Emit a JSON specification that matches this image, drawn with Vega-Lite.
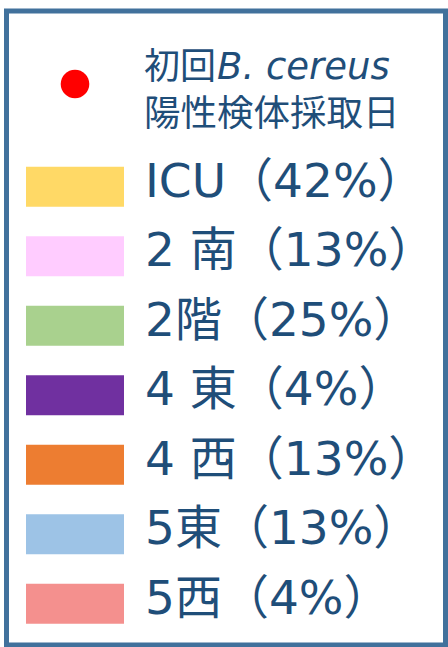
{
  "$schema": "https://vega.github.io/schema/vega-lite/v6.json",
  "width": 439,
  "height": 634,
  "padding": {"left": 6.5, "top": 11, "right": 2.5, "bottom": 2},
  "autosize": {"type": "none"},
  "background": "white",
  "view": {"stroke": "#41719C", "strokeWidth": 5, "fill": "white"},
  "datasets": {
    "marker": [
      {"item": "header", "first": "初回", "species": "B. cereus", "line2": "陽性検体採取日"}
    ],
    "wards": [
      {"item": "ICU", "label": "ICU（42%）", "pct": 42},
      {"item": "2南", "label": "2 南（13%）", "pct": 13},
      {"item": "2階", "label": "2階（25%）", "pct": 25},
      {"item": "4東", "label": "4 東（4%）", "pct": 4},
      {"item": "4西", "label": "4 西（13%）", "pct": 13},
      {"item": "5東", "label": "5東（13%）", "pct": 13},
      {"item": "5西", "label": "5西（4%）", "pct": 4}
    ]
  },
  "encoding": {
    "y": {
      "field": "item",
      "type": "nominal",
      "scale": {"type": "point", "padding": 0, "domain": ["header", "ICU", "2南", "2階", "4東", "4西", "5東", "5西"], "range": [106.3, 592.8]},
      "axis": null
    }
  },
  "layer": [
    {
      "data": {"name": "marker"},
      "mark": {"type": "point", "shape": "M-1,-2.33A1,1,0,1,1,1,-2.33A1,1,0,1,1,-1,-2.33Z", "size": 818, "filled": true, "opacity": 1, "color": "#FF0000", "strokeWidth": 0},
      "encoding": {
        "x": {"datum": "swatch", "type": "nominal", "scale": {"type": "point", "padding": 0, "domain": ["swatch", "label"], "range": [68.5, 141.5]}, "axis": null}
      }
    },
    {
      "data": {"name": "marker"},
      "mark": {"type": "text", "align": "left", "baseline": "middle", "dx": -4, "dy": -49, "fontSize": 36, "font": "Noto Sans CJK JP", "color": "#1F4E79"},
      "encoding": {
        "x": {"datum": "label", "type": "nominal", "scale": {"type": "point", "padding": 0, "domain": ["swatch", "label"], "range": [68.5, 141.5]}, "axis": null},
        "text": {"field": "first"}
      }
    },
    {
      "data": {"name": "marker"},
      "mark": {"type": "text", "align": "left", "baseline": "middle", "dx": 69, "dy": -49, "fontSize": 37, "fontStyle": "italic", "font": "DejaVu Sans", "color": "#1F4E79"},
      "encoding": {
        "x": {"datum": "label", "type": "nominal", "scale": {"type": "point", "padding": 0, "domain": ["swatch", "label"], "range": [68.5, 141.5]}, "axis": null},
        "text": {"field": "species"}
      }
    },
    {
      "data": {"name": "marker"},
      "mark": {"type": "text", "align": "left", "baseline": "middle", "dx": -4, "dy": -2, "fontSize": 36.5, "font": "Noto Sans CJK JP", "color": "#1F4E79"},
      "encoding": {
        "x": {"datum": "label", "type": "nominal", "scale": {"type": "point", "padding": 0, "domain": ["swatch", "label"], "range": [68.5, 141.5]}, "axis": null},
        "text": {"field": "line2"}
      }
    },
    {
      "data": {"name": "wards"},
      "mark": {"type": "point", "shape": "M-1.225,-0.5H1.225V0.5H-1.225Z", "size": 6400, "filled": true, "opacity": 1, "strokeWidth": 0},
      "encoding": {
        "x": {"datum": "swatch", "type": "nominal", "scale": {"type": "point", "padding": 0, "domain": ["swatch", "label"], "range": [68.5, 141.5]}, "axis": null},
        "color": {
          "field": "item",
          "type": "nominal",
          "scale": {
            "domain": ["ICU", "2南", "2階", "4東", "4西", "5東", "5西"],
            "range": ["#FFD966", "#FFCCFF", "#A9D18E", "#7030A0", "#ED7D31", "#9DC3E6", "#F4908E"]
          },
          "legend": null
        }
      }
    },
    {
      "data": {"name": "wards"},
      "mark": {"type": "text", "align": "left", "baseline": "middle", "dx": -3, "dy": -4, "fontSize": 47, "font": "DejaVu Sans, Noto Sans CJK JP", "color": "#1F4E79"},
      "encoding": {
        "x": {"datum": "label", "type": "nominal", "scale": {"type": "point", "padding": 0, "domain": ["swatch", "label"], "range": [68.5, 141.5]}, "axis": null},
        "text": {"field": "label"}
      }
    }
  ]
}
